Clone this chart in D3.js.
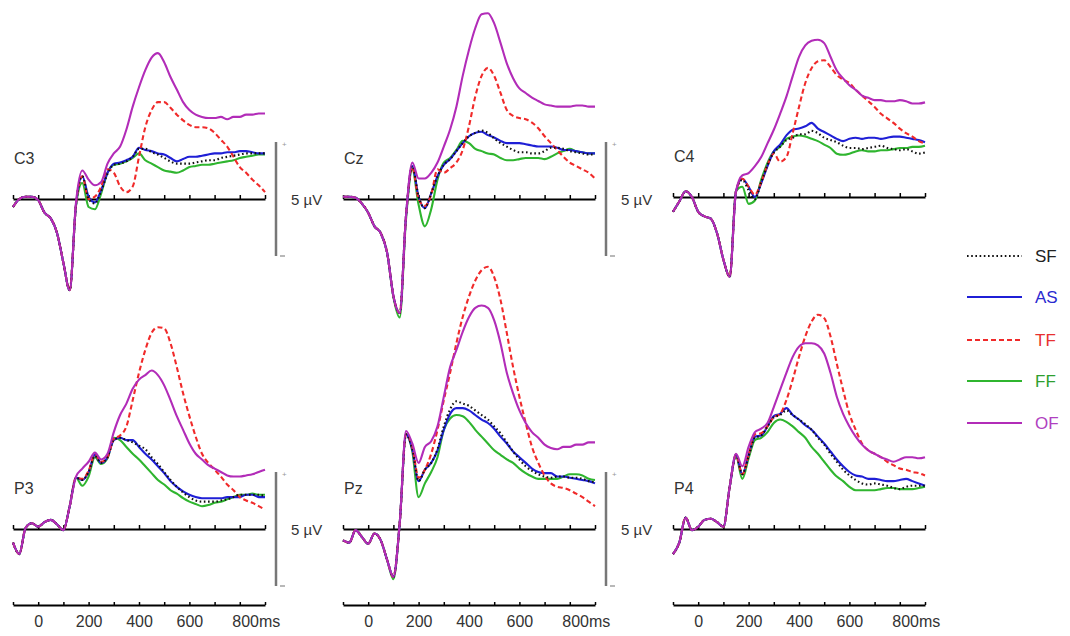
<!DOCTYPE html>
<html>
<head>
<meta charset="utf-8">
<script src="https://cdn.jsdelivr.net/npm/d3@7"></script>
<style>
  body { margin:0; background:#fff; }
  svg { display:block; font-family:"Liberation Sans", Arial, sans-serif; }
</style>
</head>
<body>
<div id="plot"></div>
<script>
//time points in ms, one value every 25 ms
var times = d3.range(-100, 901, 25);

//condition names and their legend labels
var conditions = ['SF','AS','TF','FF','OF'];
var timeLabels = [0, 200, 400, 600, 800];

//amplitudes in microvolts (positive up)
var C3_SF = [-0.7,0.0,0.2,0.2,-0.1,-1.2,-1.7,-3.0,-5.6,-8.0,-0.5,2.0,0.0,-0.4,0.7,2.2,3.0,3.1,3.3,3.7,4.4,4.4,4.1,3.9,3.6,3.3,3.1,3.1,3.1,3.2,3.3,3.4,3.4,3.6,3.7,3.8,3.9,4.0,4.0,4.0,4.0];
var C3_AS = [-0.7,0.0,0.2,0.2,-0.1,-1.2,-1.7,-3.0,-5.6,-8.0,-0.5,2.0,0.2,-0.3,0.8,2.3,3.1,3.2,3.4,3.7,4.5,4.3,4.2,4.0,3.9,3.6,3.3,3.5,3.7,3.7,3.8,3.9,4.0,4.0,4.1,4.1,4.2,4.2,4.1,4.0,4.0];
var C3_TF = [-0.7,0.0,0.2,0.2,-0.1,-1.2,-1.7,-3.0,-5.6,-8.0,-0.5,2.0,0.0,0.2,1.1,2.6,2.3,1.1,0.6,1.1,3.7,6.3,7.8,8.5,8.5,8.0,7.4,6.9,6.5,6.3,6.3,6.2,5.8,5.2,4.6,3.7,2.8,2.3,1.7,1.2,0.6];
var C3_FF = [-0.7,0.0,0.2,0.2,-0.1,-1.2,-1.7,-3.0,-5.6,-8.0,-0.6,1.4,-0.7,-0.9,0.5,2.3,3.0,3.1,3.3,3.6,4.0,3.4,3.1,2.8,2.5,2.4,2.3,2.5,2.8,2.9,3.0,3.0,3.1,3.2,3.3,3.4,3.6,3.7,3.8,3.9,3.9];
var C3_OF = [-0.7,0.0,0.2,0.2,-0.1,-1.2,-1.7,-3.0,-5.6,-8.0,-0.3,2.5,1.7,1.2,1.5,3.1,4.0,4.6,6.1,8.1,9.8,11.3,12.4,12.8,12.0,10.7,9.6,8.5,7.8,7.4,7.2,7.1,7.1,7.2,7.0,7.2,7.2,7.4,7.4,7.5,7.5];

var Cz_SF = [0.2,0.2,0.1,-0.4,-1.2,-2.4,-3.0,-4.7,-8.5,-10.0,-1.5,2.9,0.2,-0.8,0.5,2.0,3.0,3.5,4.2,4.9,5.5,5.8,6.0,5.8,5.3,4.9,4.6,4.3,4.1,4.1,4.0,4.0,4.2,4.5,4.5,4.4,4.2,4.1,4.0,3.9,3.9];
var Cz_AS = [0.2,0.2,0.1,-0.4,-1.2,-2.4,-3.0,-4.7,-8.5,-10.0,-1.5,2.9,0.2,-0.8,0.5,2.0,3.0,3.5,4.2,4.9,5.5,5.8,5.9,5.6,5.4,5.1,4.9,4.9,4.9,4.8,4.7,4.6,4.6,4.6,4.5,4.3,4.3,4.2,4.1,4.0,4.0];
var Cz_TF = [0.2,0.2,0.1,-0.4,-1.2,-2.4,-3.0,-4.7,-8.5,-10.0,-1.5,2.8,0.0,-0.6,0.4,2.6,2.3,2.7,3.2,4.3,6.4,9.0,10.8,11.5,10.8,9.3,7.8,7.3,7.1,7.0,6.7,6.2,5.5,4.9,4.3,3.7,3.2,2.9,2.6,2.3,1.8];
var Cz_FF = [0.2,0.2,0.1,-0.4,-1.2,-2.4,-3.0,-4.7,-8.6,-10.4,-1.8,2.6,-0.5,-2.4,-0.9,1.7,3.2,3.6,4.3,5.1,4.9,4.4,4.2,4.0,3.9,3.6,3.4,3.4,3.5,3.6,3.6,3.6,3.5,3.7,4.0,4.2,4.4,4.2,4.1,4.0,4.0];
var Cz_OF = [0.2,0.2,0.1,-0.4,-1.2,-2.4,-3.0,-4.7,-8.5,-10.0,-1.5,3.2,1.8,1.8,2.3,3.2,4.6,6.1,8.1,10.8,13.1,15.0,16.2,16.3,15.4,13.7,11.9,10.6,9.7,9.3,8.9,8.6,8.3,8.2,8.1,8.1,8.1,8.2,8.2,8.1,8.1];

var C4_SF = [-1.3,-0.4,0.5,0.0,-1.3,-1.7,-1.9,-3.2,-5.5,-7.0,0.5,1.5,0.6,-0.2,1.3,2.8,3.9,4.4,5.0,5.2,5.5,5.5,5.8,5.6,5.2,5.0,4.8,4.5,4.3,4.3,4.2,4.3,4.4,4.5,4.3,4.2,4.1,4.2,4.0,3.8,3.9];
var C4_AS = [-1.3,-0.4,0.5,0.0,-1.3,-1.7,-1.9,-3.2,-5.5,-7.0,0.5,1.6,0.9,0.0,1.2,2.7,4.0,4.6,5.4,5.9,6.0,6.2,6.5,6.0,5.7,5.4,5.1,4.9,5.1,5.2,5.1,5.2,5.2,5.1,5.2,5.3,5.3,5.2,5.1,5.0,4.8];
var C4_TF = [-1.3,-0.4,0.5,0.0,-1.3,-1.7,-1.9,-3.2,-5.5,-7.0,0.5,1.6,0.9,0.2,1.3,2.8,3.8,3.1,3.5,5.6,7.9,10.0,11.3,11.9,12.0,11.4,10.7,10.3,10.0,9.4,8.9,8.4,7.9,7.3,6.9,6.5,6.0,5.6,5.3,4.9,4.7];
var C4_FF = [-1.3,-0.4,0.5,0.0,-1.3,-1.7,-1.9,-3.2,-5.5,-7.0,0.5,0.9,-0.6,-0.3,1.5,3.0,4.0,4.4,5.1,5.3,5.4,5.3,5.1,4.9,4.6,4.3,3.8,3.7,3.8,4.0,4.1,4.0,4.0,4.1,4.1,4.2,4.3,4.3,4.4,4.4,4.5];
var C4_OF = [-1.3,-0.4,0.5,0.0,-1.3,-1.7,-1.9,-3.2,-5.5,-7.0,0.5,1.9,2.1,2.7,3.5,4.7,5.9,7.3,8.8,10.6,12.3,13.3,13.7,13.8,13.5,12.3,11.1,10.4,9.8,9.4,8.9,8.7,8.5,8.5,8.4,8.4,8.5,8.4,8.2,8.2,8.3];

var P3_SF = [-1.2,-2.2,0.1,0.5,0.2,0.6,0.8,0.4,-0.1,2.0,4.5,4.3,5.0,6.4,5.8,6.3,7.8,8.0,7.8,7.6,7.3,7.0,6.3,5.7,5.0,4.3,3.7,3.2,2.8,2.5,2.4,2.4,2.4,2.5,2.6,2.8,3.0,3.0,3.0,3.0,2.9];
var P3_AS = [-1.2,-2.2,0.1,0.5,0.2,0.6,0.8,0.4,-0.1,2.0,4.5,4.3,5.0,6.5,5.8,6.3,7.8,8.0,7.8,7.8,7.2,6.6,6.1,5.5,4.9,4.2,3.7,3.3,3.0,2.8,2.7,2.7,2.7,2.7,2.8,2.8,2.8,3.0,3.0,2.8,2.8];
var P3_TF = [-1.2,-2.2,0.1,0.5,0.2,0.6,0.8,0.4,-0.1,2.0,4.5,4.4,5.1,6.5,5.9,6.3,7.9,8.2,9.0,11.3,13.7,15.7,17.2,17.7,17.6,16.3,14.2,11.9,9.9,8.1,6.6,5.8,5.2,4.6,3.9,3.4,2.8,2.5,2.3,2.0,1.7];
var P3_FF = [-1.2,-2.2,0.1,0.5,0.2,0.6,0.8,0.4,-0.1,2.0,4.5,3.8,4.6,6.3,5.7,6.2,8.0,7.8,7.2,6.6,6.1,5.5,4.9,4.3,3.9,3.4,3.1,2.7,2.4,2.2,2.0,2.1,2.3,2.4,2.6,2.8,3.0,3.0,3.1,3.0,3.0];
var P3_OF = [-1.2,-2.2,0.1,0.5,0.2,0.6,0.8,0.4,-0.1,2.0,4.6,5.3,5.9,6.7,6.1,6.6,8.5,10.0,11.0,12.3,13.1,13.5,13.9,13.5,12.6,11.3,9.9,8.7,7.5,6.6,6.1,5.6,5.3,5.0,4.7,4.6,4.6,4.7,4.8,5.0,5.2];

var Pz_SF = [-1.0,-1.2,-0.1,-0.7,-1.3,-0.4,-1.0,-2.7,-4.2,0.5,8.3,7.0,4.2,5.2,5.8,7.0,9.0,10.5,11.2,11.0,10.8,10.4,10.0,9.6,9.0,8.4,7.6,6.8,6.1,5.5,5.1,4.8,4.6,4.5,4.6,4.6,4.5,4.5,4.4,4.2,4.1];
var Pz_AS = [-1.0,-1.2,-0.1,-0.7,-1.3,-0.4,-1.0,-2.7,-4.2,0.5,8.3,7.0,4.2,5.2,5.8,6.9,8.7,10.1,10.6,10.6,10.4,10.0,9.6,9.3,8.8,8.1,7.5,6.8,6.3,5.8,5.3,5.0,4.9,4.9,4.6,4.6,4.5,4.4,4.3,4.2,4.0];
var Pz_TF = [-1.0,-1.2,-0.1,-0.7,-1.3,-0.4,-1.0,-2.7,-4.2,0.5,8.3,7.2,4.5,5.2,6.6,8.7,11.3,13.7,16.3,18.6,20.4,21.8,22.7,23.0,22.1,20.1,17.2,14.2,11.6,9.3,7.2,5.8,4.7,4.0,3.7,3.6,3.4,3.1,2.8,2.4,2.0];
var Pz_FF = [-1.0,-1.2,-0.1,-0.7,-1.3,-0.4,-1.0,-2.7,-4.4,0.5,8.3,6.8,2.8,4.0,5.0,6.3,8.7,9.7,10.0,9.9,9.4,8.7,8.1,7.5,6.9,6.5,6.1,5.8,5.3,4.9,4.6,4.4,4.4,4.4,4.4,4.6,4.8,4.8,4.7,4.4,4.3];
var Pz_OF = [-1.0,-1.2,-0.1,-0.7,-1.3,-0.4,-1.0,-2.7,-4.2,0.5,8.6,7.5,5.8,7.2,7.7,9.0,11.6,14.2,15.7,17.3,18.6,19.4,19.6,19.4,18.3,16.3,13.7,11.9,10.4,9.3,8.5,8.0,7.4,7.1,7.0,7.2,7.2,7.4,7.4,7.6,7.6];

var P4_SF = [-2.2,-1.2,1.0,-0.1,0.2,0.8,0.9,0.6,0.2,3.7,6.5,4.8,6.4,8.0,8.2,9.0,9.8,10.0,10.4,10.0,9.6,9.2,8.7,8.0,7.4,6.6,5.9,5.2,4.7,4.3,4.0,3.9,4.0,3.9,3.8,3.6,3.5,3.7,3.8,3.8,3.8];
var P4_AS = [-2.2,-1.2,1.0,-0.1,0.2,0.8,0.9,0.6,0.2,3.7,6.5,4.8,6.5,8.1,8.2,9.0,9.9,10.1,10.6,10.0,9.6,9.1,8.7,8.1,7.5,6.8,6.1,5.5,5.0,4.7,4.6,4.4,4.4,4.3,4.2,4.2,4.3,4.4,4.2,4.0,3.8];
var P4_TF = [-2.2,-1.2,1.0,-0.1,0.2,0.8,0.9,0.6,0.2,3.7,6.5,4.8,6.5,8.3,8.4,9.0,9.8,10.1,11.3,13.1,15.1,16.9,18.2,18.8,18.5,16.9,14.5,12.2,10.1,8.7,7.5,6.9,6.6,6.3,5.9,5.6,5.3,5.2,5.0,4.9,4.7];
var P4_FF = [-2.2,-1.2,1.0,-0.1,0.2,0.8,0.9,0.6,0.2,3.7,6.4,4.4,6.2,7.8,8.0,8.5,9.3,9.6,9.4,9.0,8.5,8.0,7.2,6.6,5.9,5.2,4.6,4.2,3.7,3.4,3.4,3.4,3.4,3.5,3.6,3.6,3.5,3.5,3.5,3.6,3.7];
var P4_OF = [-2.2,-1.2,1.0,-0.1,0.2,0.8,0.9,0.6,0.2,3.7,6.6,5.5,7.2,8.5,8.8,9.3,10.7,12.2,13.7,15.1,16.0,16.3,16.3,16.1,15.4,13.7,11.6,10.1,9.0,8.1,7.4,6.9,6.6,6.3,6.1,5.9,6.1,6.3,6.3,6.2,6.3];

//line styles per condition
var styles = {
	SF:{color:'#111111', dash:'1.6,2.6', width:2.1, text:'#222222'},
	AS:{color:'#1f1fd6', dash:null, width:2.1, text:'#2a2ad0'},
	TF:{color:'#f02a2a', dash:'5,3', width:2.1, text:'#e83030'},
	FF:{color:'#2fb52f', dash:null, width:2.1, text:'#2f9f2f'},
	OF:{color:'#b22cb8', dash:null, width:2.1, text:'#b040c0'}
};

//panel layout: left edge of the axis, baseline, whether it gets a scale bar / time axis
var panels = [
	{name:'C3', x0:13,  y0:199, bar:true,  timeAxis:false, data:{SF:C3_SF,AS:C3_AS,TF:C3_TF,FF:C3_FF,OF:C3_OF}},
	{name:'Cz', x0:343, y0:199, bar:true,  timeAxis:false, data:{SF:Cz_SF,AS:Cz_AS,TF:Cz_TF,FF:Cz_FF,OF:Cz_OF}},
	{name:'C4', x0:673, y0:197, bar:false, timeAxis:false, data:{SF:C4_SF,AS:C4_AS,TF:C4_TF,FF:C4_FF,OF:C4_OF}},
	{name:'P3', x0:13,  y0:529, bar:true,  timeAxis:true,  data:{SF:P3_SF,AS:P3_AS,TF:P3_TF,FF:P3_FF,OF:P3_OF}},
	{name:'Pz', x0:343, y0:529, bar:true,  timeAxis:true,  data:{SF:Pz_SF,AS:Pz_AS,TF:Pz_TF,FF:Pz_FF,OF:Pz_OF}},
	{name:'P4', x0:673, y0:529, bar:false, timeAxis:true,  data:{SF:P4_SF,AS:P4_AS,TF:P4_TF,FF:P4_FF,OF:P4_OF}}
];

var width = 1070, height = 636;

var svg = d3.select('#plot')
	.append('svg')
	.attr('width',width)
	.attr('height',height);

//same scales for every panel, drawn relative to the panel origin
var x = d3.scaleLinear().domain([-100,900]).range([0,252]);
var y = d3.scaleLinear().domain([-5,5]).range([57,-57]);

var line = d3.line()
	.x(function(d){ return x(d.t); })
	.y(function(d){ return y(d.v); })
	.curve(d3.curveMonotoneX);

//order in which the curves are stacked (last one on top)
var drawOrder = ['FF','AS','TF','SF','OF'];

panels.forEach(function(p){
	var g = svg.append('g')
		.attr('transform','translate('+p.x0+','+p.y0+')');

	//zero line with ticks every 100 ms
	var zeroAxis = g.append('g')
		.call(d3.axisTop(x).tickValues(d3.range(-100,901,100)).tickSize(4).tickSizeOuter(0).tickFormat(''));
	zeroAxis.select('.domain').attr('stroke','#000').attr('stroke-width',2);
	zeroAxis.selectAll('.tick line').attr('stroke','#000').attr('stroke-width',1.5);

	//the waveforms
	drawOrder.forEach(function(c){
		var pts = times.map(function(t,i){ return {t:t, v:p.data[c][i]}; });
		g.append('path')
			.datum(pts)
			.attr('d',line)
			.attr('fill','none')
			.attr('stroke',styles[c].color)
			.attr('stroke-width',styles[c].width)
			.attr('stroke-dasharray',styles[c].dash)
			.attr('stroke-linejoin','round');
	});

	//electrode label
	g.append('text')
		.attr('x',1)
		.attr('y',-35)
		.attr('font-size',16)
		.attr('fill','#333')
		.text(p.name);

	//amplitude scale bar
	if (p.bar) {
		var bx = x(900)+11;
		g.append('line')
			.attr('x1',bx).attr('x2',bx)
			.attr('y1',y(5)).attr('y2',y(-5))
			.attr('stroke','#777').attr('stroke-width',2.5);
		g.append('text')
			.attr('x',bx+6).attr('y',y(5)+5)
			.attr('font-size',8).attr('fill','#999')
			.text('+');
		g.append('line')
			.attr('x1',bx+4).attr('x2',bx+9)
			.attr('y1',y(-5)).attr('y2',y(-5))
			.attr('stroke','#888').attr('stroke-width',1.2);
		g.append('text')
			.attr('x',bx+15).attr('y',6)
			.attr('font-size',15).attr('fill','#333')
			.text('5 \u00b5V');
	}

	//time axis under the bottom row
	if (p.timeAxis) {
		var ta = g.append('g')
			.attr('transform','translate(0,76)');
		var tTicks = ta.append('g')
			.call(d3.axisTop(x).tickValues(d3.range(-100,901,100)).tickSize(3).tickSizeOuter(0).tickFormat(''));
		tTicks.select('.domain').attr('stroke','#000').attr('stroke-width',2);
		tTicks.selectAll('.tick line').attr('stroke','#000').attr('stroke-width',1.5);
		var tLabels = ta.append('g')
			.call(d3.axisBottom(x).tickValues(timeLabels).tickSize(0).tickPadding(11)
				.tickFormat(function(d){ return d===800 ? '800ms' : d; }));
		tLabels.select('.domain').remove();
		tLabels.selectAll('text')
			.attr('font-size',16)
			.attr('font-family','"Liberation Sans", Arial, sans-serif')
			.attr('fill','#333');
		tLabels.selectAll('.tick').filter(function(d){ return d===800; }).select('text')
			.attr('text-anchor','start').attr('x',-8);
	}
});

//legend
var legendY = [256,297,340,381,423];
var legend = svg.append('g');
conditions.forEach(function(c,i){
	legend.append('line')
		.attr('x1',967).attr('x2',1022)
		.attr('y1',legendY[i]).attr('y2',legendY[i])
		.attr('stroke',styles[c].color)
		.attr('stroke-width',styles[c].width)
		.attr('stroke-dasharray',styles[c].dash);
	legend.append('text')
		.attr('x',1035).attr('y',legendY[i])
		.attr('dy','0.36em')
		.attr('font-size',17)
		.attr('fill',styles[c].text)
		.text(c);
});
</script>
</body>
</html>
